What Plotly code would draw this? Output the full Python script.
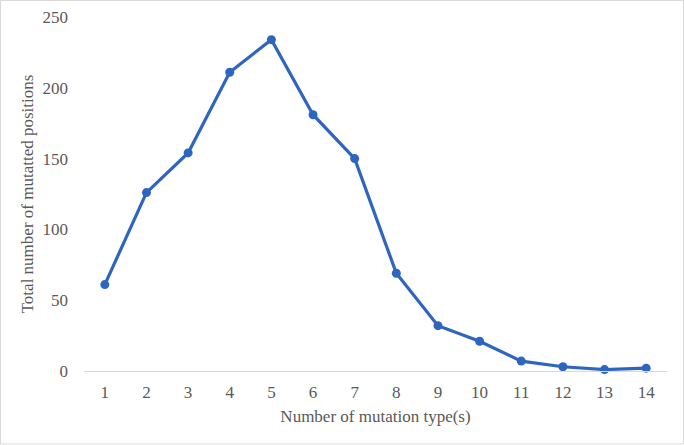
import plotly.graph_objects as go

categories = [str(i) for i in range(1, 15)]
values = [61, 126, 154, 211, 234, 181, 150, 69, 32, 21, 7, 3, 1, 2]
y_ticks = [0, 50, 100, 150, 200, 250]

W, H = 684, 445
ml, mr, mt, mb = 84, 17, 17, 74
pw, ph = W - ml - mr, H - mt - mb

fig = go.Figure()
fig.add_trace(go.Scatter(
    x=categories, y=values, mode="lines+markers",
    line=dict(color="#2E66BF", width=3.2),
    marker=dict(color="#2E66BF", size=9),
    showlegend=False, cliponaxis=False,
))

font = dict(family="Liberation Serif", size=17, color="#595959")
fig.update_layout(
    width=W, height=H,
    margin=dict(l=ml, r=mr, t=mt, b=mb, autoexpand=False),
    paper_bgcolor="white", plot_bgcolor="white",
    font=font,
    xaxis=dict(
        type="category", range=[-0.5, 13.5], automargin=False,
        showgrid=False, showline=True, linecolor="#D9D9D9", linewidth=1,
        ticks="", zeroline=False, tickfont=font, ticklabelstandoff=6,
        title=dict(text="Number of mutation type(s)", font=font, standoff=8),
    ),
    yaxis=dict(
        range=[0, 250], tickvals=y_ticks, showgrid=False, showline=False,
        automargin=False,
        zeroline=False, ticks="", tickfont=font, ticklabelstandoff=15,
        title=dict(text="Total number of mutatted positions", font=font, standoff=4),
    ),
)
fig.add_shape(
    type="rect", xref="paper", yref="paper",
    x0=-(ml - 0.5) / pw, x1=1 + (mr - 0.5) / pw,
    y0=-(mb - 1) / ph, y1=1 + (mt - 0.5) / ph,
    line=dict(color="#D9D9D9", width=1), fillcolor="rgba(0,0,0,0)",
    layer="below",
)

fig.write_html("out.html", config={"displayModeBar": False},
               post_script="document.body.style.margin='0';")
